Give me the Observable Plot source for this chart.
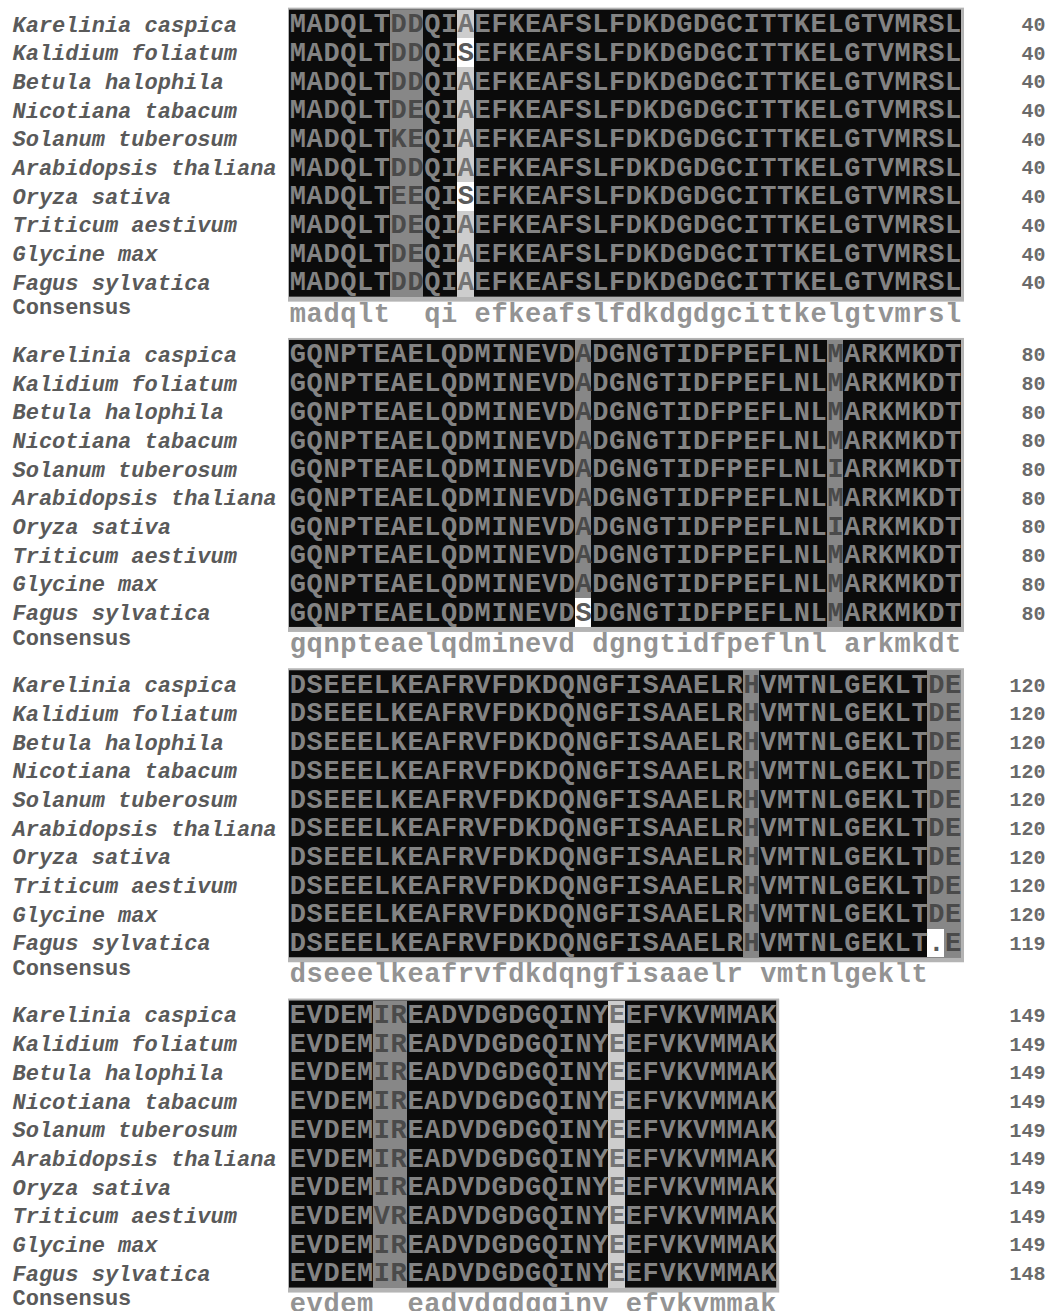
<!DOCTYPE html>
<html><head><meta charset="utf-8">
<script src="https://cdn.jsdelivr.net/npm/d3@7"></script>
<script src="https://cdn.jsdelivr.net/npm/@observablehq/plot@0.6"></script>
<style>body{margin:0;background:#fff} #chart svg{display:block}</style>
</head><body><div id="chart"></div>
<script>
// ---- data ----
const species = ["Karelinia caspica","Kalidium foliatum","Betula halophila","Nicotiana tabacum","Solanum tuberosum","Arabidopsis thaliana","Oryza sativa","Triticum aestivum","Glycine max","Fagus sylvatica"];
const consensusLabel = "Consensus";

const block1 = [
  "MADQLTDDQIAEFKEAFSLFDKDGDGCITTKELGTVMRSL",
  "MADQLTDDQISEFKEAFSLFDKDGDGCITTKELGTVMRSL",
  "MADQLTDDQIAEFKEAFSLFDKDGDGCITTKELGTVMRSL",
  "MADQLTDEQIAEFKEAFSLFDKDGDGCITTKELGTVMRSL",
  "MADQLTKEQIAEFKEAFSLFDKDGDGCITTKELGTVMRSL",
  "MADQLTDDQIAEFKEAFSLFDKDGDGCITTKELGTVMRSL",
  "MADQLTEEQISEFKEAFSLFDKDGDGCITTKELGTVMRSL",
  "MADQLTDEQIAEFKEAFSLFDKDGDGCITTKELGTVMRSL",
  "MADQLTDEQIAEFKEAFSLFDKDGDGCITTKELGTVMRSL",
  "MADQLTDDQIAEFKEAFSLFDKDGDGCITTKELGTVMRSL"
];
const block2 = [
  "GQNPTEAELQDMINEVDADGNGTIDFPEFLNLMARKMKDT",
  "GQNPTEAELQDMINEVDADGNGTIDFPEFLNLMARKMKDT",
  "GQNPTEAELQDMINEVDADGNGTIDFPEFLNLMARKMKDT",
  "GQNPTEAELQDMINEVDADGNGTIDFPEFLNLMARKMKDT",
  "GQNPTEAELQDMINEVDADGNGTIDFPEFLNLIARKMKDT",
  "GQNPTEAELQDMINEVDADGNGTIDFPEFLNLMARKMKDT",
  "GQNPTEAELQDMINEVDADGNGTIDFPEFLNLIARKMKDT",
  "GQNPTEAELQDMINEVDADGNGTIDFPEFLNLMARKMKDT",
  "GQNPTEAELQDMINEVDADGNGTIDFPEFLNLMARKMKDT",
  "GQNPTEAELQDMINEVDSDGNGTIDFPEFLNLMARKMKDT"
];
const block3 = [
  "DSEEELKEAFRVFDKDQNGFISAAELRHVMTNLGEKLTDE",
  "DSEEELKEAFRVFDKDQNGFISAAELRHVMTNLGEKLTDE",
  "DSEEELKEAFRVFDKDQNGFISAAELRHVMTNLGEKLTDE",
  "DSEEELKEAFRVFDKDQNGFISAAELRHVMTNLGEKLTDE",
  "DSEEELKEAFRVFDKDQNGFISAAELRHVMTNLGEKLTDE",
  "DSEEELKEAFRVFDKDQNGFISAAELRHVMTNLGEKLTDE",
  "DSEEELKEAFRVFDKDQNGFISAAELRHVMTNLGEKLTDE",
  "DSEEELKEAFRVFDKDQNGFISAAELRHVMTNLGEKLTDE",
  "DSEEELKEAFRVFDKDQNGFISAAELRHVMTNLGEKLTDE",
  "DSEEELKEAFRVFDKDQNGFISAAELRHVMTNLGEKLT.E"
];
const block4 = [
  "EVDEMIREADVDGDGQINYEEFVKVMMAK",
  "EVDEMIREADVDGDGQINYEEFVKVMMAK",
  "EVDEMIREADVDGDGQINYEEFVKVMMAK",
  "EVDEMIREADVDGDGQINYEEFVKVMMAK",
  "EVDEMIREADVDGDGQINYEEFVKVMMAK",
  "EVDEMIREADVDGDGQINYEEFVKVMMAK",
  "EVDEMIREADVDGDGQINYEEFVKVMMAK",
  "EVDEMVREADVDGDGQINYEEFVKVMMAK",
  "EVDEMIREADVDGDGQINYEEFVKVMMAK",
  "EVDEMIREADVDGDGQINYEEFVKVMMAK"
];
const consensus = [
  "madqlt  qi efkeafslfdkdgdgcittkelgtvmrsl",
  "gqnpteaelqdminevd dgngtidfpeflnl arkmkdt",
  "dseeelkeafrvfdkdqngfisaaelr vmtnlgeklt  ",
  "evdem  eadvdgdgqiny efvkvmmak"
];
// column shading: k = 100% identical (black), g = high homology (grey), l = lower (light grey)
const columnShade = [
  "kkkkkkggkklkkkkkkkkkkkkkkkkkkkkkkkkkkkkk",
  "kkkkkkkkkkkkkkkkkgkkkkkkkkkkkkkkgkkkkkkk",
  "kkkkkkkkkkkkkkkkkkkkkkkkkkkgkkkkkkkkkkgg",
  "kkkkkggkkkkkkkkkkkkl" + "kkkkkkkkk"
];
// residues that do not match the column (block, row, column 1-based) -> white
const mismatchCells = [[0,1,11],[0,6,11],[1,9,18],[2,9,39]];

// ---- layout ----
const W = 1051, H = 1311;
const CW = 16.8, RH = 28.7, LEFT = 289, TOP = 24;
const BP = 330.3 / RH;   // block pitch in row units

const blocks = [block1, block2, block3, block4];
const fillFor = {k: "#0b0b0b", g: "#878787", l: "#cdcdcd", w: "#ffffff"};
const inkFor  = {k: "#838383", g: "#4a4a4a", l: "#747474", w: "#5a5a5a"};

const cells = [], letters = [], names = [], nums = [], cons = [], boxes = [];
const counts = species.map(() => 0);
blocks.forEach((rows, b) => {
  const n = rows[0].length;
  boxes.push({n, s0: b * BP - 0.5, s1: b * BP + 9.5});
  rows.forEach((seq, r) => {
    const slot = b * BP + r;
    [...seq].forEach((ch, c) => {
      let lvl = columnShade[b][c];
      if (ch === "." || mismatchCells.some(([bb, rr, cc]) => bb === b && rr === r && cc === c + 1)) lvl = "w";
      if (lvl !== "k") cells.push({c, slot, lvl});
      letters.push({c, slot, ch, lvl});
      if (ch !== ".") counts[r]++;
    });
    names.push({slot, name: species[r]});
    nums.push({slot, v: counts[r]});
  });
  [...consensus[b]].forEach((ch, c) => { if (ch !== " ") cons.push({c, slot: b * BP + 10.05, ch}); });
});
const consLabels = blocks.map((_, b) => ({slot: b * BP + 9.85, name: consensusLabel}));

const chart = Plot.plot({
  width: W, height: H, margin: 0,
  style: {background: "#fff"},
  x: {domain: [-LEFT / CW, (W - LEFT) / CW], axis: null},
  y: {domain: [-TOP / RH, (H - TOP) / RH], reverse: true, axis: null},
  marks: [
    Plot.rect(boxes, {x1: 0, x2: "n", y1: "s0", y2: "s1", fill: "#b4b4b4",
      insetTop: -2, insetBottom: -5, insetLeft: -1, insetRight: -3}),
    Plot.rect(boxes, {x1: 0, x2: "n", y1: "s0", y2: "s1", fill: fillFor.k}),
    Plot.rect(cells, {x1: "c", x2: d => d.c + 1, y1: d => d.slot - 0.5, y2: d => d.slot + 0.5,
      fill: d => fillFor[d.lvl], shapeRendering: "crispEdges"}),
    Plot.text(letters, {x: d => d.c + 0.5, y: "slot", text: "ch", fill: d => inkFor[d.lvl],
      fontFamily: "Liberation Mono", fontSize: 27, fontWeight: "bold", dy: -1}),
    Plot.text(cons, {x: d => d.c + 0.5, y: "slot", text: "ch", fill: "#939393",
      fontFamily: "Liberation Mono", fontSize: 27, fontWeight: "bold"}),
    Plot.text(names, {y: "slot", text: "name", frameAnchor: "left", dx: 12, textAnchor: "start",
      fill: "#5a5a5a", fontFamily: "Liberation Mono", fontSize: 22, fontStyle: "italic", fontWeight: "bold"}),
    Plot.text(consLabels, {y: "slot", text: "name", frameAnchor: "left", dx: 12, textAnchor: "start",
      fill: "#5a5a5a", fontFamily: "Liberation Mono", fontSize: 22, fontWeight: "bold"}),
    Plot.text(nums, {y: "slot", text: d => String(d.v), frameAnchor: "right", dx: -6, textAnchor: "end",
      fill: "#6a6a6a", fontFamily: "Liberation Mono", fontSize: 20, fontWeight: "bold"})
  ]
});
document.getElementById("chart").append(chart);
</script>
</body></html>
